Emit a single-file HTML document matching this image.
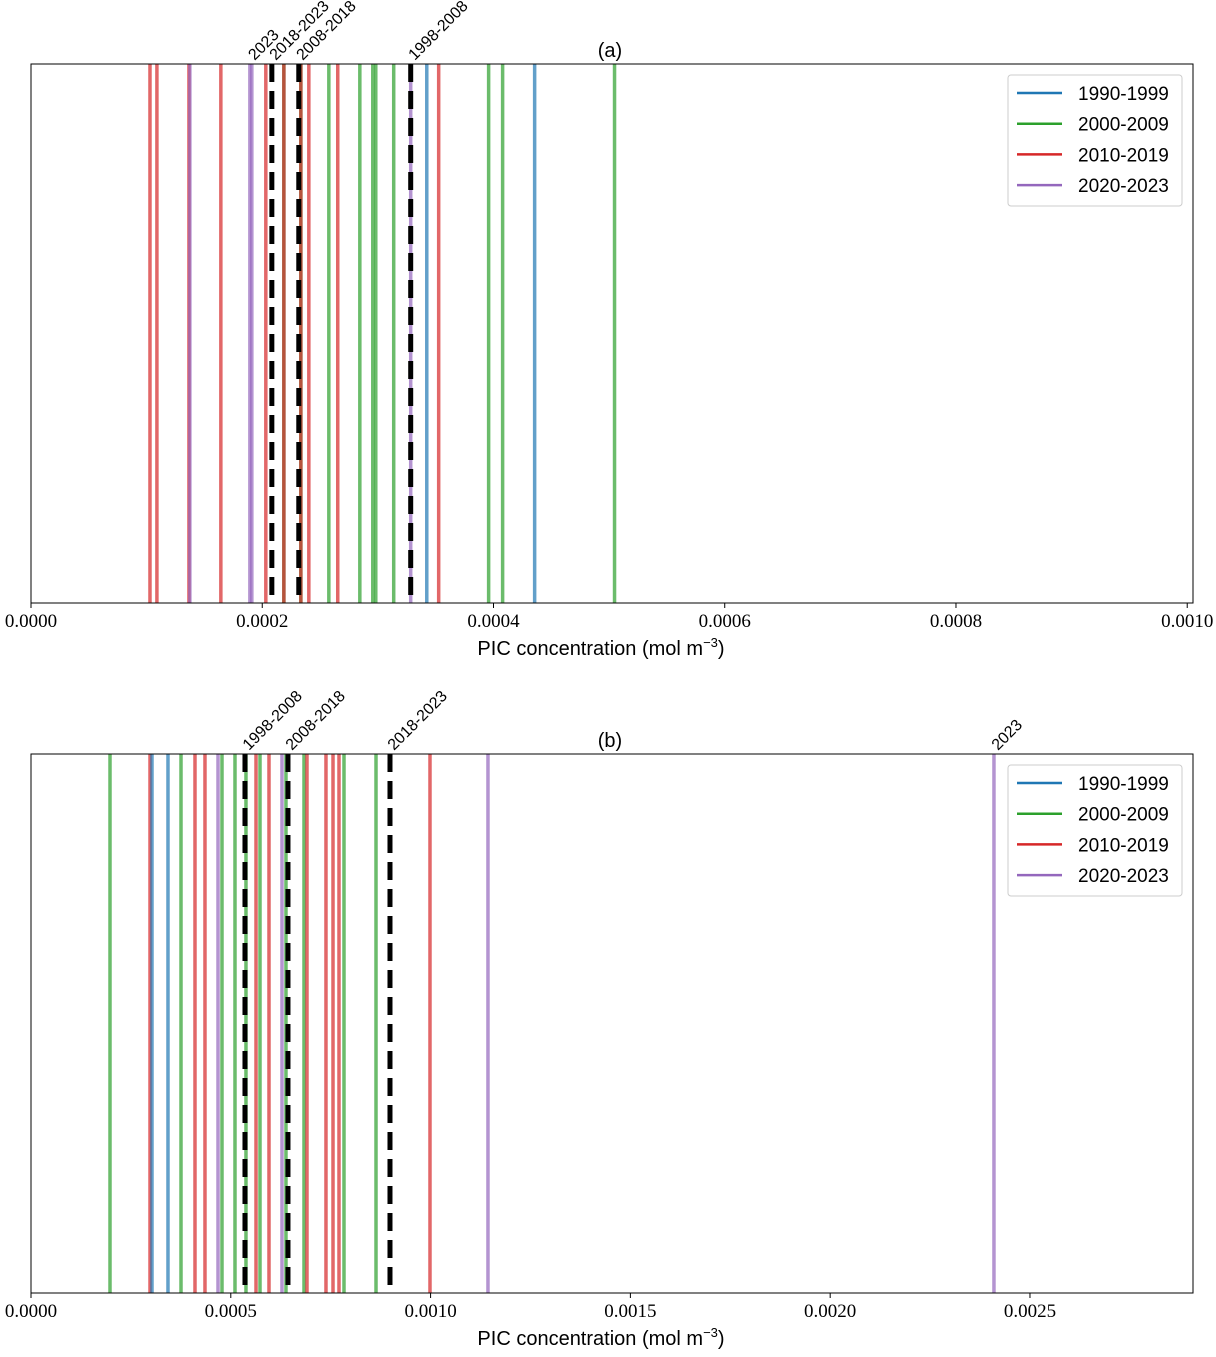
<!DOCTYPE html>
<html><head><meta charset="utf-8">
<style>
body{margin:0;background:#fff;}
svg text{font-family:"Liberation Sans",sans-serif;fill:#000;}
.tick{font-family:"Liberation Serif",serif;font-size:19px;}
</style></head>
<body>
<svg id="chart" width="1216" height="1352" xmlns="http://www.w3.org/2000/svg"></svg>
<script>
// Panel (a) data (values in mol m^-3)
const aBlue = [3.423e-4, 4.356e-4];
const aGreen = [2.187e-4, 2.334e-4, 2.576e-4, 2.844e-4, 2.956e-4, 2.982e-4, 3.137e-4, 3.958e-4, 4.079e-4, 5.047e-4];
const aRed = [1.029e-4, 1.089e-4, 1.366e-4, 1.642e-4, 2.031e-4, 2.187e-4, 2.334e-4, 2.403e-4, 2.653e-4, 3.526e-4];
const aPurple = [1.374e-4, 1.893e-4, 1.910e-4, 3.284e-4];
const aMeans = [2.083e-4, 2.316e-4, 3.284e-4];
const aLabelNames = ["2023", "2018-2023", "2008-2018", "1998-2008"];
const aLabelVals = [1.90e-4, 2.083e-4, 2.316e-4, 3.284e-4];
const aTicks = [0, 0.0002, 0.0004, 0.0006, 0.0008, 0.0010];
const aTickLabels = ["0.0000", "0.0002", "0.0004", "0.0006", "0.0008", "0.0010"];
// Panel (b) data
const bBlue = [3.028e-4, 3.428e-4];
const bGreen = [1.977e-4, 3.754e-4, 4.780e-4, 5.105e-4, 5.380e-4, 5.731e-4, 6.381e-4, 6.832e-4, 7.833e-4, 8.634e-4];
const bRed = [2.978e-4, 4.104e-4, 4.354e-4, 5.631e-4, 5.956e-4, 6.907e-4, 7.382e-4, 7.558e-4, 7.708e-4, 9.985e-4];
const bPurple = [4.680e-4, 6.281e-4, 11.436e-4, 24.099e-4];
const bMeans = [5.355e-4, 6.431e-4, 8.984e-4];
const bLabelNames = ["1998-2008", "2008-2018", "2018-2023", "2023"];
const bLabelVals = [5.355e-4, 6.431e-4, 8.984e-4, 24.099e-4];
const bTicks = [0, 0.0005, 0.0010, 0.0015, 0.0020, 0.0025];
const bTickLabels = ["0.0000", "0.0005", "0.0010", "0.0015", "0.0020", "0.0025"];
const legendNames = ["1990-1999", "2000-2009", "2010-2019", "2020-2023"];

const NS = "http://www.w3.org/2000/svg";
const svg = document.getElementById("chart");
const C = {blue:"#1f77b4", green:"#2ca02c", red:"#d62728", purple:"#9467bd"};
function mk(tag, attrs, parent){const e=document.createElementNS(NS,tag);for(const k in attrs)e.setAttribute(k,attrs[k]);(parent||svg).appendChild(e);return e;}

function panel(id, top, xmax, series, means, labNames, labVals, ticks, tickLabels, title){
  const L=31,R=1193,T=top,B=top+539;
  const x=v=>L+(v/xmax)*(R-L);
  const g=mk("g",{});
  
  
  series.forEach(([vals,col,name])=>{
    vals.forEach(v=>{
      const l=mk("line",{x1:x(v),x2:x(v),y1:T,y2:B,stroke:col,"stroke-width":3.5,"stroke-opacity":0.7},g);
      
      
    });
  });
  means.forEach(v=>{
    const l=mk("line",{x1:x(v),x2:x(v),y1:T,y2:B,stroke:"#000","stroke-width":5,"stroke-dasharray":"18,9"},g);
    
    
  });
  const fr=mk("rect",{x:L,y:T,width:R-L,height:B-T,fill:"none",stroke:"#000","stroke-width":1},g);
  
  
  labNames.forEach((n,i)=>{
    const px=x(labVals[i])+4, py=T-3;
    const t=mk("text",{x:px,y:py,"font-size":16,transform:`rotate(-45 ${px} ${py})`},g);
    t.textContent=n;
    
    
  });
  ticks.forEach((v,i)=>{
    mk("line",{x1:x(v),x2:x(v),y1:B,y2:B+5,stroke:"#000"},g);
    const t=mk("text",{x:x(v),y:B+24,"text-anchor":"middle",class:"tick"},g);
    t.textContent=tickLabels[i];
    
    
  });
  const xt=mk("text",{x:601,y:B+52,"text-anchor":"middle","font-size":20},g);
  xt.innerHTML='PIC concentration (mol m<tspan dy="-8" font-size="13">−3</tspan><tspan dy="8">)</tspan>';
  
  
  const tt=mk("text",{x:610,y:T-7,"text-anchor":"middle","font-size":20},g);
  tt.textContent=title;
  
  
  const lg=mk("g",{},g);
  
  
  mk("rect",{x:1008,y:T+11,width:174,height:131,rx:3,fill:"#fff","fill-opacity":0.8,stroke:"#ccc"},lg);
  [C.blue,C.green,C.red,C.purple].forEach((c,i)=>{
    const yy=T+29+i*30.7;
    mk("line",{x1:1017,x2:1062,y1:yy,y2:yy,stroke:c,"stroke-width":2.5},lg);
    const t=mk("text",{x:1078,y:yy+7,"font-size":19},lg);
    t.textContent=legendNames[i];
    
    
  });
}
panel("a",64,0.001005,[[aGreen,C.green,'green'],[aRed,C.red,'red'],[aBlue,C.blue,'blue'],[aPurple,C.purple,'purple']],aMeans,aLabelNames,aLabelVals,aTicks,aTickLabels,"(a)");
panel("b",754,0.002908,[[bGreen,C.green,'green'],[bRed,C.red,'red'],[bBlue,C.blue,'blue'],[bPurple,C.purple,'purple']],bMeans,bLabelNames,bLabelVals,bTicks,bTickLabels,"(b)");
</script>
</body></html>
